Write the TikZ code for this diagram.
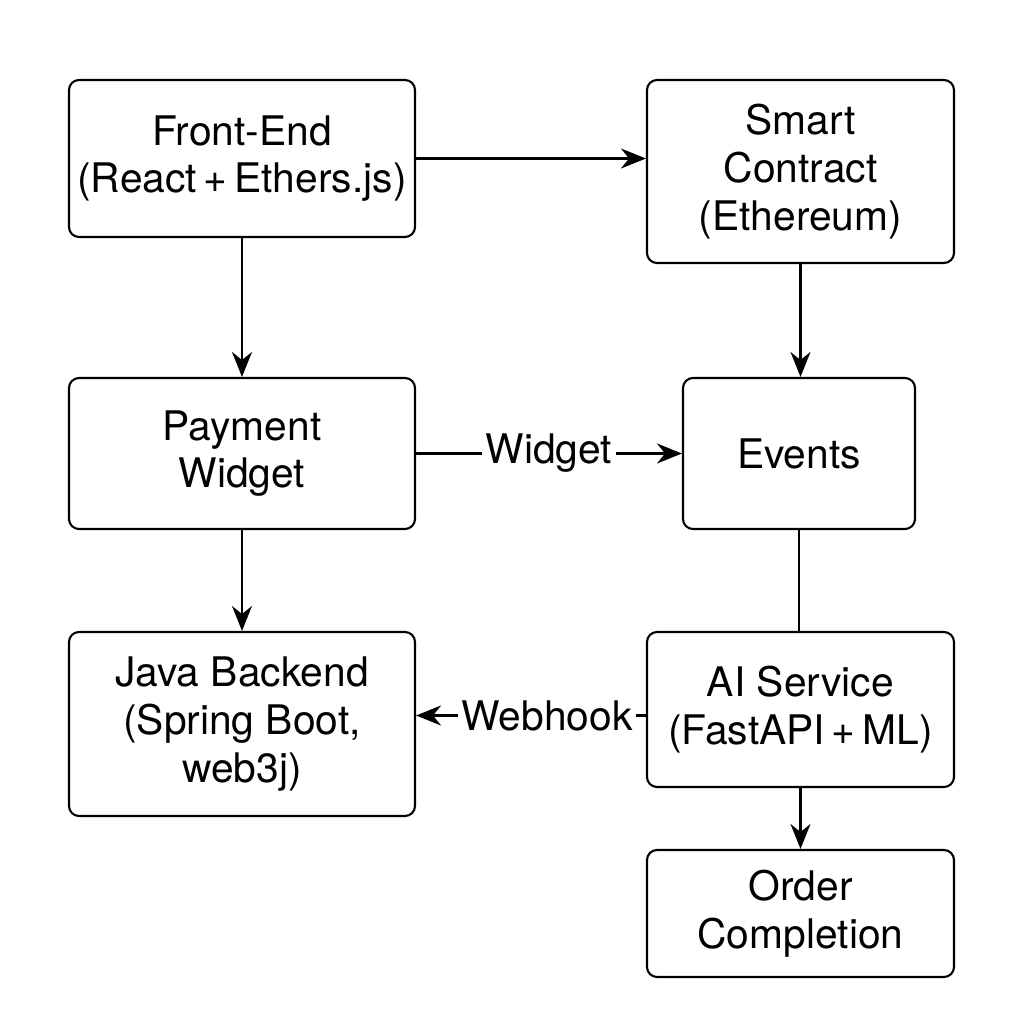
\documentclass[tikz,border=0pt]{standalone}
\usepackage{fontspec}
\setmainfont{TeX Gyre Heros}
\usetikzlibrary{arrows.meta,positioning}
\tikzset{
  block/.style={draw=black,line width=0.6pt,rounded corners=1mm,align=center,
    inner xsep=1pt,font=\fontsize{11.6}{13.6}\selectfont},
  flow/.style={line width=0.6pt,-{Stealth[length=2.5mm,width=2mm]}},
  lbl/.style={fill=white,inner sep=1pt,font=\fontsize{11.6}{13.6}\selectfont}
}
\begin{document}
\begin{tikzpicture}
    \useasboundingbox (0,0) rectangle (10.24,10.24);
    \node[block,minimum width=3.46cm,minimum height=1.57cm] (front) at (2.42,8.655) {Front-End\\(React\,+\,Ethers.js)};
    \node[block,minimum width=3.07cm,minimum height=1.83cm] (smart) at (8.005,8.525) {Smart\\Contract\\(Ethereum)};
    \node[block,minimum width=3.46cm,minimum height=1.51cm] (pay) at (2.42,5.705) {Payment\\Widget};
    \node[block,minimum width=2.32cm,minimum height=1.51cm] (events) at (7.99,5.705) {Events};
    \node[block,minimum width=3.46cm,minimum height=1.84cm] (java) at (2.42,3.00) {Java Backend\\(Spring Boot,\\web3j)};
    \node[block,minimum width=3.07cm,minimum height=1.55cm] (ai) at (8.005,3.145) {AI Service\\(FastAPI\,+\,ML)};
    \node[block,minimum width=3.07cm,minimum height=1.27cm] (order) at (8.005,1.105) {Order\\Completion};
    % connectors
    \draw[flow] (front.east) -- (front.east -| smart.west);
    \draw[flow] (front.south) -- (pay.north);
    \draw[flow] (smart.south) -- (smart.south |- events.north);
    \draw[flow] (pay.east) -- node[lbl] {Widget} (events.west);
    \draw[flow] (pay.south) -- (java.north);
    \draw[line width=0.6pt] (events.south) -- (events.south |- ai.north);
    \coordinate (hook) at ([yshift=-0.6mm]ai.west);
    \draw[flow] (hook) -- node[lbl,pos=0.43] {Webhook} (hook -| java.east);
    \draw[flow] (ai.south) -- (order.north);
\end{tikzpicture}
\end{document}
